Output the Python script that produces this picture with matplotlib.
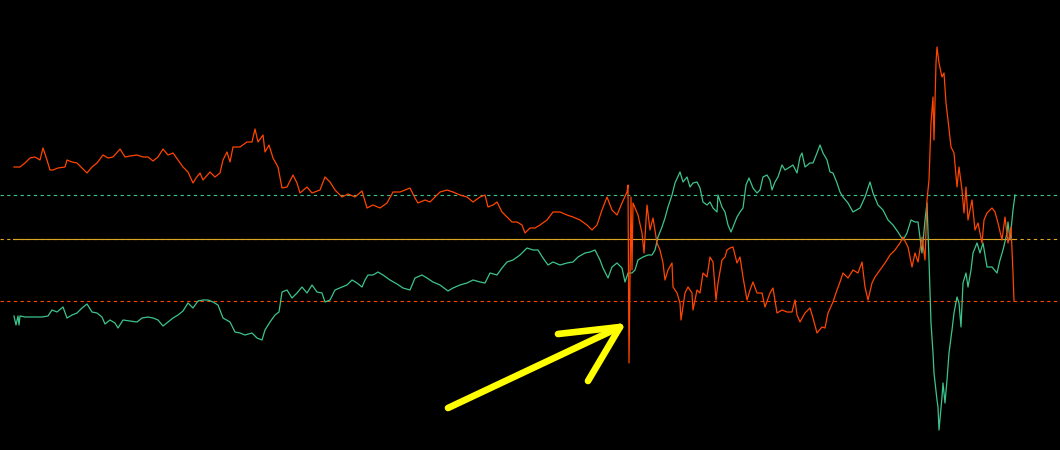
import numpy as np
import matplotlib
matplotlib.use("Agg")
import matplotlib.pyplot as plt

# --- dane: poziom wzgledem linii srodkowej (odczyt z wykresu) ---
red_x = [14, 20, 25, 30, 35, 40, 43, 47, 50, 53, 58, 65, 67, 72, 77, 82, 87, 92, 97, 103,
         108, 113, 120, 125, 130, 137, 143, 148, 153, 158, 163, 168, 173, 178, 183, 188, 193, 196, 200, 203,
         210, 215, 220, 223, 227, 230, 233, 240, 247, 252, 255, 258, 263, 265, 269, 273, 278, 282, 287, 293,
         297, 300, 307, 312, 320, 325, 330, 335, 342, 348, 355, 362, 367, 373, 380, 387, 393, 400, 410, 415,
         418, 425, 430, 440, 447, 453, 460, 467, 473, 480, 485, 488, 493, 497, 502, 507, 512, 517, 522, 525,
         530, 535, 540, 547, 553, 560, 567, 573, 580, 587, 592, 597, 602, 607, 612, 617, 622, 627, 628, 629,
         631, 632, 633, 638, 642, 644, 647, 650, 653, 657, 660, 663, 665, 668, 672, 673, 677, 680, 681, 685,
         688, 692, 693, 697, 700, 703, 707, 710, 713, 716, 718, 722, 725, 727, 730, 733, 737, 740, 743, 747,
         750, 753, 757, 762, 765, 770, 773, 777, 782, 787, 792, 795, 797, 800, 805, 810, 813, 817, 822, 825,
         828, 833, 837, 840, 843, 848, 853, 858, 862, 865, 868, 872, 875, 880, 885, 890, 895, 900, 903, 908,
         912, 915, 918, 922, 925, 927, 929, 931, 933, 934, 936, 937, 939, 942, 944, 946, 948, 951, 954, 957,
         959, 962, 964, 966, 968, 972, 975, 978, 982, 984, 987, 992, 995, 998, 1002, 1005, 1008, 1011, 1013, 1014]
red_v = [72, 72, 76, 81, 82, 79, 91, 79, 69, 69, 71, 72, 79, 77, 76, 71, 66, 72, 76, 84,
         81, 82, 90, 82, 83, 84, 82, 82, 78, 82, 90, 84, 86, 79, 72, 67, 56, 61, 66, 59,
         67, 62, 66, 79, 87, 77, 92, 92, 97, 97, 110, 97, 104, 87, 94, 81, 72, 51, 52, 64,
         56, 46, 52, 46, 49, 62, 57, 49, 42, 45, 42, 48, 31, 34, 31, 36, 47, 47, 51, 41,
         36, 39, 37, 47, 49, 47, 44, 42, 37, 42, 44, 32, 34, 37, 27, 22, 17, 17, 14, 6,
         11, 11, 14, 19, 27, 27, 24, 22, 19, 14, 9, 14, 29, 42, 29, 24, 36, 47, 54, -124,
         42, -31, 36, 24, 6, -14, 34, 9, 21, -4, -11, -24, -41, -31, -24, -48, -54, -64, -81, -54,
         -48, -54, -71, -51, -54, -34, -38, -18, -23, -61, -44, -21, -18, -11, -9, -8, -24, -18, -38, -61,
         -51, -43, -54, -54, -68, -54, -49, -74, -71, -73, -73, -61, -76, -83, -74, -69, -79, -94, -88, -89,
         -74, -63, -51, -43, -34, -39, -31, -34, -23, -48, -61, -44, -38, -31, -24, -16, -11, -4, 2, -8,
         -28, -14, -23, 2, -21, 39, 59, 116, 142, 99, 176, 192, 176, 162, 166, 136, 119, 92, 86, 52,
         72, 49, 26, 52, 19, 39, 9, 16, -4, 19, 26, 31, 27, 16, -1, 22, -4, 12, -34, -62]

green_x = [14, 16, 18, 19, 20, 25, 33, 42, 48, 52, 57, 63, 67, 72, 77, 82, 87, 92, 97, 102,
           105, 110, 115, 118, 123, 130, 137, 142, 148, 153, 158, 163, 168, 173, 178, 183, 188, 193, 198, 203,
           208, 213, 218, 223, 230, 235, 240, 245, 252, 257, 262, 265, 270, 275, 279, 282, 287, 292, 297, 302,
           307, 312, 317, 322, 325, 330, 335, 342, 347, 352, 357, 362, 365, 368, 373, 378, 383, 390, 397, 403,
           410, 415, 422, 427, 433, 440, 448, 453, 460, 467, 473, 480, 485, 490, 497, 502, 507, 513, 520, 527,
           533, 538, 543, 548, 553, 560, 567, 573, 578, 585, 590, 595, 600, 603, 608, 612, 617, 622, 625, 628,
           632, 635, 638, 643, 648, 652, 655, 658, 662, 665, 668, 672, 675, 680, 683, 687, 690, 693, 697, 700,
           703, 707, 710, 713, 717, 718, 722, 725, 728, 731, 733, 737, 740, 743, 746, 749, 753, 757, 760, 763,
           767, 770, 772, 775, 778, 782, 785, 790, 793, 797, 800, 802, 805, 810, 813, 817, 820, 823, 827, 830,
           833, 837, 840, 843, 848, 853, 860, 865, 870, 873, 878, 883, 888, 893, 898, 903, 907, 911, 915, 918,
           922, 925, 927, 929, 931, 933, 934, 937, 938, 939, 942, 943, 945, 947, 949, 952, 954, 957, 959, 961,
           963, 966, 968, 971, 973, 977, 980, 983, 987, 992, 997, 1000, 1003, 1007, 1008, 1010, 1012, 1013, 1015]
green_v = [-77, -86, -77, -86, -77, -78, -78, -78, -77, -71, -73, -68, -79, -76, -74, -69, -65, -73, -74, -78,
           -85, -81, -84, -89, -81, -82, -83, -79, -78, -79, -81, -87, -83, -79, -76, -72, -64, -69, -62, -61,
           -61, -63, -66, -79, -83, -93, -94, -96, -94, -99, -101, -91, -83, -76, -73, -53, -51, -59, -54, -48,
           -54, -46, -53, -54, -63, -61, -51, -48, -46, -41, -44, -48, -41, -36, -36, -33, -36, -41, -45, -49,
           -51, -39, -36, -39, -43, -46, -52, -49, -46, -44, -41, -43, -44, -34, -36, -29, -23, -21, -16, -9,
           -11, -11, -19, -26, -23, -26, -24, -23, -18, -14, -13, -11, -21, -29, -39, -28, -24, -29, -43, -34,
           -34, -31, -21, -18, -16, -16, -11, 2, 12, 21, 32, 44, 56, 67, 57, 62, 52, 56, 57, 51,
           37, 34, 37, 31, 27, 44, 32, 27, 14, 7, 12, 22, 27, 31, 54, 61, 51, 46, 49, 62,
           64, 59, 49, 57, 62, 74, 69, 72, 74, 66, 82, 86, 72, 76, 76, 86, 94, 86, 79, 67,
           66, 56, 47, 42, 36, 27, 31, 42, 57, 46, 34, 29, 19, 14, 7, -1, 6, 19, 17, 17,
           -14, 19, 36, -21, -84, -114, -134, -161, -168, -191, -158, -144, -164, -141, -114, -91, -74, -58, -64, -88,
           -44, -34, -48, -31, -14, -4, -14, -4, -28, -28, -34, -21, -11, 6, 17, -1, 19, 29, 44]

# strzalka (adnotacja): ogon, grot, dwa ramiona grotu
arrow_tail = (448, -169)
arrow_tip = (620, -88)
arrow_wing1 = (558, -95)
arrow_wing2 = (588, -142)

RED = "#FF4500"
GREEN = "#3DC48B"
GOLD = "#DAA520"

fig = plt.figure(figsize=(10.6, 4.5), dpi=100, facecolor="black")
ax = fig.add_axes([0, 0, 1, 1])
ax.set_facecolor("black")
ax.set_xlim(0, 1060)
ax.set_ylim(-211, 239)
ax.axis("off")

# linie poziome: srodek + ostatnie wartosci serii
ax.axhline(0, color=GOLD, lw=0.8, dashes=(3, 3))
ax.plot([red_x[0] - 1, red_x[-1]], [0, 0], color=GOLD, lw=0.8)
ax.axhline(green_v[-1], color=GREEN, lw=0.8, dashes=(3, 3))
ax.axhline(red_v[-1], color=RED, lw=0.8, dashes=(3, 3))

ax.plot(green_x, green_v, color=GREEN, lw=0.9)
ax.plot(red_x, red_v, color=RED, lw=0.9)

# zolta strzalka
for a, b in [(arrow_tail, arrow_tip), (arrow_wing1, arrow_tip), (arrow_wing2, arrow_tip)]:
    ax.plot([a[0], b[0]], [a[1], b[1]], color="#FFFF00", lw=4.8, solid_capstyle="round")

fig.savefig("out.png", dpi=100, facecolor="black")
